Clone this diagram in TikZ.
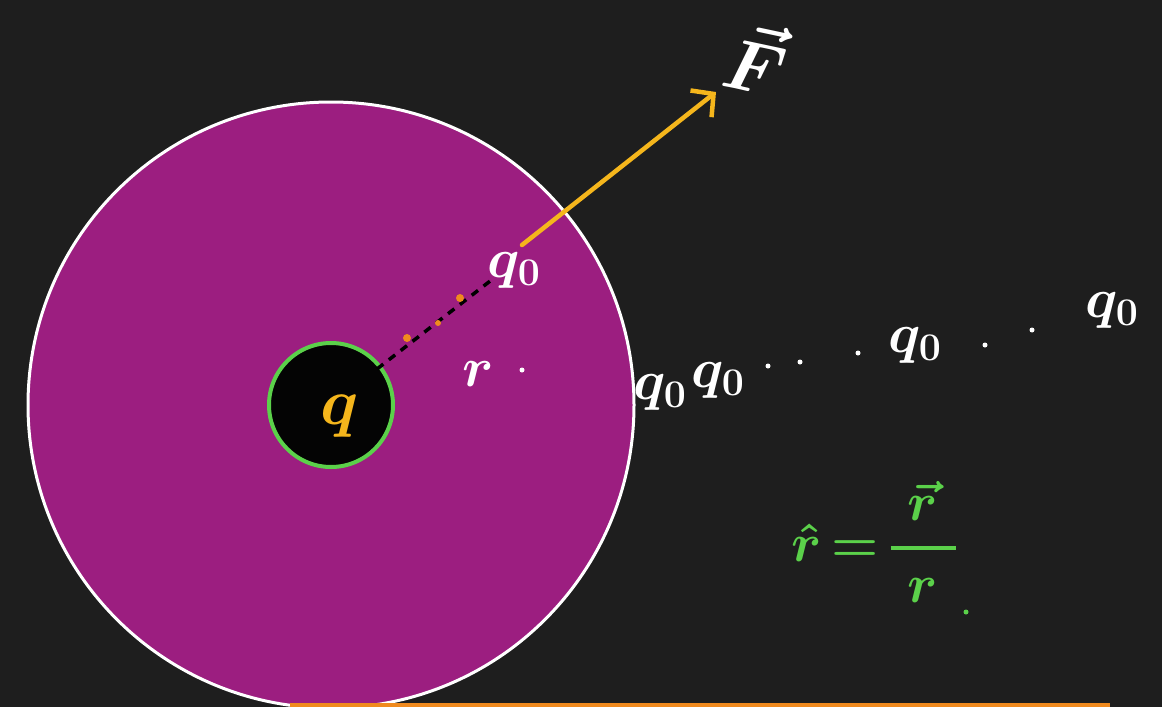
\RequirePackage{fix-cm}
\documentclass[tikz,border=0pt]{standalone}
\usetikzlibrary{arrows.meta}
\definecolor{bg}{HTML}{1E1E1E}
\definecolor{purp}{HTML}{9C1E80}
\definecolor{grn}{HTML}{5BD14A}
\definecolor{yel}{HTML}{F5B61C}
\definecolor{org}{HTML}{F08A1E}
\begin{document}
\begin{tikzpicture}[x=1pt,y=-1pt,
  wlab/.style={text=white,inner sep=0pt,font=\fontsize{56}{60}\selectfont\boldmath},
  glab/.style={text=grn,inner sep=0pt,font=\fontsize{54}{60}\selectfont\boldmath},
  dotw/.style={fill=white,circle,inner sep=0pt,minimum size=5pt},
  odot/.style={fill=org,circle,inner sep=0pt,minimum size=8pt}]
\useasboundingbox (0,0) rectangle (1162,707);
\fill[bg] (0,0) rectangle (1162,707);
\begin{scope}
\clip (0,0) rectangle (1162,707);
\node[circle,draw=white,line width=3pt,fill=purp,minimum size=606pt,inner sep=0pt] (big) at (331,405) {};
\draw[org,line width=4pt] (290,705) -- (1110,705);
\end{scope}
\node[circle,draw=grn,line width=4pt,fill=black!85!bg,minimum size=124pt,inner sep=0pt] (small) at (331,405) {};
\node[text=yel,inner sep=0pt,font=\fontsize{66}{70}\selectfont\boldmath] (q) at (340,416) {$q$};
% dashed line
\coordinate (d1) at (377,369);
\coordinate (d2) at (494,278);
\draw[black,line width=3.5pt,dash pattern=on 8pt off 7pt] (d1) -- (d2);
\node[odot] (o1) at (407,338) {};
\node[odot,minimum size=6pt] (o2) at (438,323) {};
\node[odot] (o3) at (460,298) {};
% q0 at the edge
\node[wlab] (q0a) at (514,270) {$q_0$};
\node[wlab] (r) at (478,374) {$r$};
\node[dotw] (rd) at (522,370) {};
% force arrow
\coordinate (a1) at (522,245);
\coordinate (a2) at (716,92);
\draw[yel,line width=4.5pt,line cap=round,-{Straight Barb[length=16pt,width=34pt,line width=4.5pt]}] (a1) -- (a2);
\node[wlab,rotate=-12,font=\fontsize{72}{76}\selectfont\boldmath] (F) at (757,58) {$\vec{F}$};
% row of test charges
\node[wlab] (q1) at (660,392) {$q_0$};
\node[wlab] (q2) at (718,380) {$q_0$};
\node[dotw] (e1) at (768,366) {};
\node[dotw] (e2) at (800,362) {};
\node[dotw] (e3) at (858,353) {};
\node[wlab] (q3) at (915,345) {$q_0$};
\node[dotw] (e4) at (985,345) {};
\node[dotw] (e5) at (1032,330) {};
\node[wlab] (q4) at (1112,310) {$q_0$};
% formula
\node[glab] (eq) at (874,542) {$\displaystyle\hat{r}\mkern-2mu=\mkern-2mu{\displaystyle\mkern5mu\vec{r}\mkern5mu\above 4pt\displaystyle r}$};
\node[fill=grn,circle,inner sep=0pt,minimum size=5pt] (eqd) at (966,612) {};
\end{tikzpicture}
\end{document}
